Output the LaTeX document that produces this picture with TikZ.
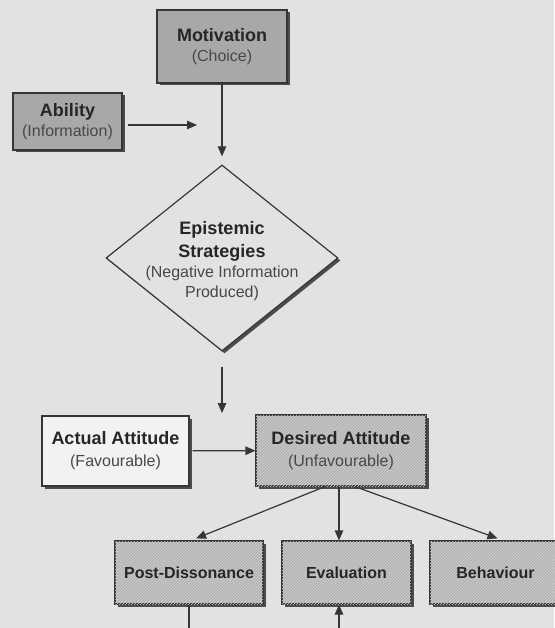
\documentclass[tikz,border=0pt]{standalone}
\usepackage{fontspec}
\setmainfont{Liberation Sans}
\usetikzlibrary{arrows.meta,shapes.geometric,shadows,patterns}
\definecolor{bgcol}{HTML}{E2E2E2}
\definecolor{edgecol}{HTML}{363636}
\definecolor{darkfill}{HTML}{A8A8A8}
\definecolor{hatchbase}{HTML}{B4B4B4}
\definecolor{hatchline}{HTML}{D0D0D0}
\definecolor{lightfill}{HTML}{F2F2F2}
\definecolor{boldtxt}{HTML}{262626}
\definecolor{regtxt}{HTML}{484848}
\newcommand{\bt}[1]{{\color{boldtxt}\fontsize{18}{20}\bfseries\selectfont #1}}
\newcommand{\bs}[1]{{\color{boldtxt}\fontsize{16}{20}\bfseries\selectfont #1}}
\newcommand{\rt}[1]{{\color{regtxt}\fontsize{16}{20}\selectfont #1}}
\tikzset{
  boxbase/.style={draw=edgecol, line width=1.2pt, rectangle, inner sep=0pt, align=center,
    font=\fontsize{16}{20}\selectfont,
    drop shadow={shadow xshift=2.5pt, shadow yshift=-2.5pt, fill=black!70, opacity=1}},
  darkbox/.style={boxbase, fill=darkfill},
  hatchbox/.style={boxbase, fill=hatchbase, postaction={pattern=north east lines, pattern color=hatchline}},
  lightbox/.style={boxbase, fill=lightfill},
  txt/.style={inner sep=0pt, align=center, font=\fontsize{16}{20}\selectfont},
  conn/.style={draw=edgecol, line width=1.2pt},
  arr/.style={conn, -{Triangle[length=10pt,width=8.5pt]}}
}
\begin{document}
\begin{tikzpicture}[x=1pt,y=-1pt]
\fill[bgcol] (0,0) rectangle (554,628);
\useasboundingbox (0,0) rectangle (554,628);

% nodes
\node[darkbox, minimum width=130pt, minimum height=73pt] (mot) at (222,46.5) {\bt{Motivation}\\\rt{(Choice)}};
\node[darkbox, minimum width=109pt, minimum height=57pt] (abl) at (67.5,121.5) {\bt{Ability}\\\rt{(Information)}};
\node[diamond, draw=edgecol, line width=1.2pt, minimum width=232pt, minimum height=186pt, inner sep=0pt,
  drop shadow={shadow xshift=2.5pt, shadow yshift=-2.5pt, fill=black!70, opacity=1}, fill=bgcol] (dia) at (222,258) {};
\node[txt] (diat) at (222,261) {\bt{Epistemic}\\[3pt]\bt{Strategies}\\\rt{(Negative Information}\\\rt{Produced)}};
\node[lightbox, minimum width=147pt, minimum height=70pt] (act) at (115.5,451) {\bt{Actual Attitude}\\[2pt]\rt{(Favourable)}};
\node[hatchbox, minimum width=170pt, minimum height=71pt] (des) at (341,450.5) {\bt{Desired Attitude}\\[2pt]\rt{(Unfavourable)}};
\node[hatchbox, minimum width=148pt, minimum height=63pt] (pd) at (189,572.5) {\bs{Post-Dissonance}};
\node[hatchbox, minimum width=129pt, minimum height=63pt] (ev) at (346.5,572.5) {\bs{Evaluation}};
\node[hatchbox, minimum width=131pt, minimum height=63pt] (beh) at (495.5,572.5) {\bs{Behaviour}};

% free ends
\coordinate (abend) at (197,125);
\coordinate (dsend) at (222,413);
\coordinate (pdout) at (189,640);
\coordinate (evin) at (339,640);

% connectors
\draw[arr, shorten <=5pt] (abl.east |- abend) -- (abend);
\draw[arr, shorten >=8pt] (mot) -- (dia);
\draw[arr, shorten <=15pt] (dia) -- (dsend);
\draw[arr, shorten <=3pt] (act) -- (des);
\draw[arr] ([xshift=-16pt]des.south) -- ([xshift=7pt,yshift=2pt]pd.north);
\draw[arr] ([xshift=-2pt]des.south) -- ([xshift=-2pt]des.south |- ev.north);
\draw[arr] ([xshift=14pt]des.south) -- ([xshift=2pt,yshift=2pt]beh.north);
\draw[conn] (pd.south) -- (pdout);
\draw[arr] (evin) -- (evin |- ev.south);
\end{tikzpicture}
\end{document}
